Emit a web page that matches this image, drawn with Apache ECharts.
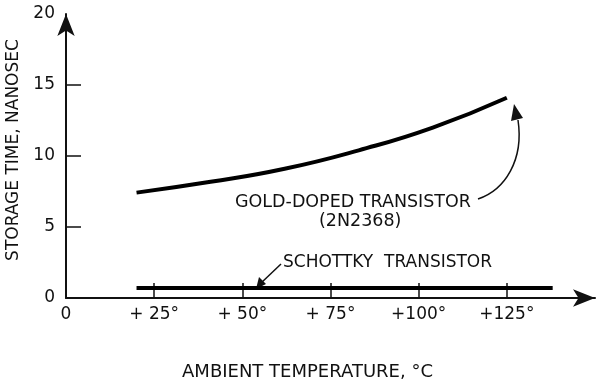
<!DOCTYPE html>
<html>
<head>
<meta charset="utf-8">
<script src="https://cdn.jsdelivr.net/npm/echarts@6/dist/echarts.min.js"></script>
<style>
  html, body { margin: 0; padding: 0; background: #fff; }
  #main { width: 598px; height: 381px; }
</style>
</head>
<body>
<div id="main"></div>
<script>
// temperatures (deg C) and storage times (ns)
var goldTemps = [20, 41, 62, 83, 104, 125];
var goldTimes = [7.42, 8.18, 9.1, 10.4, 12.0, 14.1];
var schottkyTemps = [20, 138];
var schottkyTimes = [0.7, 0.7];

var xTickValues = [25, 50, 75, 100, 125];
var xLabelValues = [0, 25, 50, 75, 100, 125];
var xLabelText = ['0', '+ 25°', '+ 50°', '+ 75°', '+100°', '+125°'];
var yTickValues = [5, 10, 15];
var yLabelValues = [0, 5, 10, 15, 20];

function pairs(xs, ys) {
    var out = [];
    for (var i = 0; i < xs.length; i++) out.push([xs[i], ys[i]]);
    return out;
}

var chart = echarts.init(document.getElementById('main'), null, {renderer: 'canvas'});
var FONT = 'DejaVu Sans';

var option = {
    animation: false,
    backgroundColor: '#fff',
    grid: { left: 66, right: 3, top: 14, bottom: 83, outerBoundsMode: 'none' },
    xAxis: {
        type: 'value',
        min: 0, max: 150, interval: 25,
        name: 'AMBIENT TEMPERATURE, °C',
        nameLocation: 'middle',
        nameGap: 65,
        nameTextStyle: { color: '#111', fontFamily: FONT, fontSize: 18, padding: [0, 46, 0, 0] },
        axisLine: { lineStyle: { color: '#111', width: 2 }, symbol: ['none', 'arrow'], symbolSize: [13, 22] },
        axisTick: { show: true, inside: true, length: 15, customValues: xTickValues,
                    lineStyle: { color: '#111', width: 1.5 } },
        axisLabel: { customValues: xLabelValues, margin: 8, color: '#111', fontFamily: FONT, fontSize: 17,
                     formatter: function (v) { return xLabelText[xLabelValues.indexOf(v)] || ''; } },
        splitLine: { show: false }
    },
    yAxis: {
        type: 'value',
        min: 0, max: 20, interval: 5,
        name: 'STORAGE TIME, NANOSEC',
        nameLocation: 'middle',
        nameRotate: 90,
        nameGap: 41,
        nameTextStyle: { color: '#111', fontFamily: FONT, fontSize: 17, padding: [0, 0, 0, 12] },
        axisLine: { show: true, lineStyle: { color: '#111', width: 2 }, symbol: ['none', 'arrow'], symbolSize: [13, 22] },
        axisTick: { show: true, inside: true, length: 15, customValues: yTickValues,
                    lineStyle: { color: '#111', width: 1.5 } },
        axisLabel: { customValues: yLabelValues, margin: 11, color: '#111', fontFamily: FONT, fontSize: 17 },
        splitLine: { show: false }
    },
    series: [
        {
            name: 'GOLD-DOPED TRANSISTOR (2N2368)',
            type: 'line',
            smooth: 0.5,
            showSymbol: false,
            lineStyle: { color: '#000', width: 4 },
            data: pairs(goldTemps, goldTimes)
        },
        {
            name: 'SCHOTTKY TRANSISTOR',
            type: 'line',
            showSymbol: false,
            lineStyle: { color: '#000', width: 4 },
            data: pairs(schottkyTemps, schottkyTimes)
        }
    ],
    graphic: [
        { type: 'text', left: 235, top: 193,
          style: { text: 'GOLD-DOPED TRANSISTOR', fill: '#111', font: '17.5px "DejaVu Sans"' } },
        { type: 'text', left: 319, top: 212,
          style: { text: '(2N2368)', fill: '#111', font: '17.5px "DejaVu Sans"' } },
        { type: 'text', left: 283, top: 254,
          style: { text: 'SCHOTTKY  TRANSISTOR', fill: '#111', font: '17px "DejaVu Sans"' } },
        // curved arrow to the gold-doped curve
        { type: 'bezierCurve',
          shape: { x1: 478, y1: 199, x2: 518, y2: 120, cpx1: 505, cpy1: 190, cpx2: 524, cpy2: 160 },
          style: { stroke: '#111', lineWidth: 1.5, fill: null } },
        { type: 'polygon', shape: { points: [[514, 104], [511, 121], [523, 118]] }, style: { fill: '#111' } },
        // straight arrow to the schottky line
        { type: 'line', shape: { x1: 281, y1: 264, x2: 260, y2: 284 }, style: { stroke: '#111', lineWidth: 1.5 } },
        { type: 'polygon', shape: { points: [[256, 289], [259, 277], [266, 284]] }, style: { fill: '#111' } }
    ]
};

chart.setOption(option);
</script>
</body>
</html>
